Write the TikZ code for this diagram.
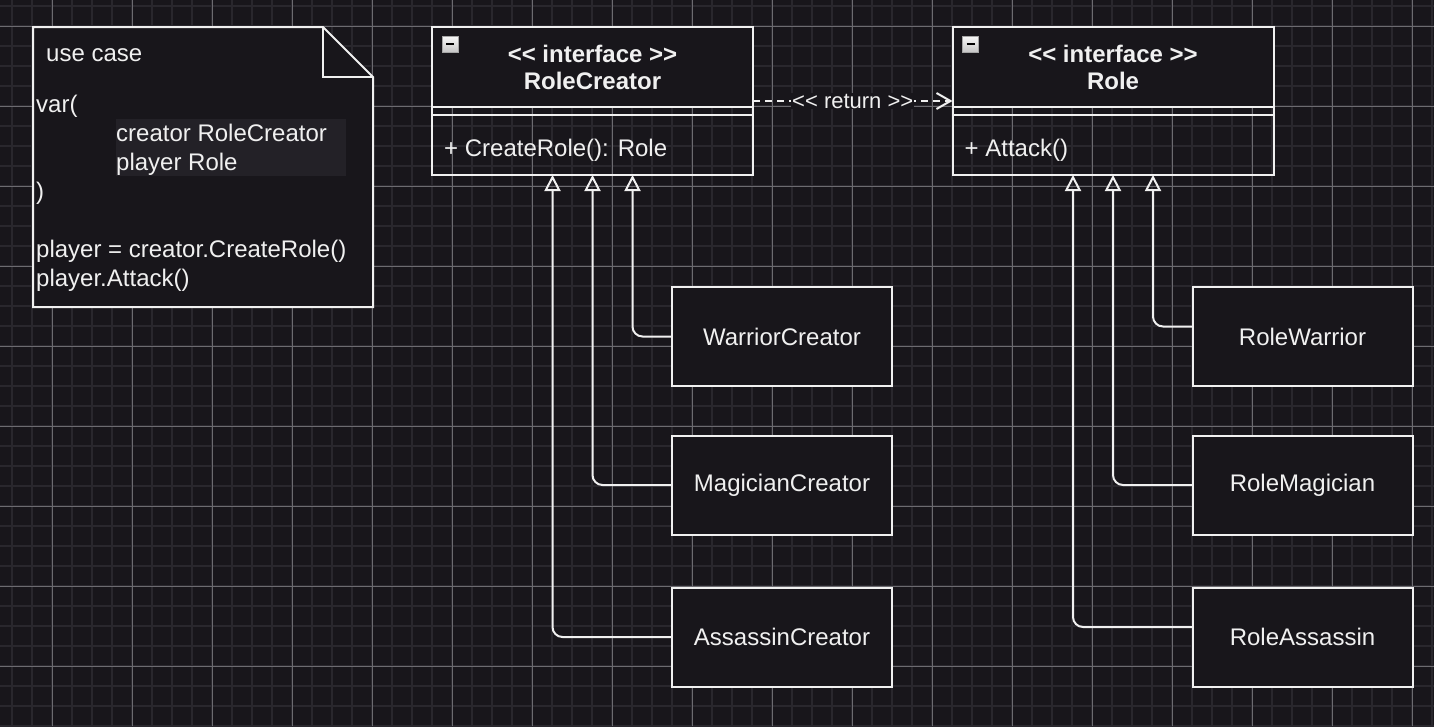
\documentclass[tikz,border=0pt]{standalone}
\usepackage{fontspec}
\newfontfamily\diagramfont{Liberation Sans}
\usepackage{tikz}
\usetikzlibrary{arrows.meta,positioning}
\definecolor{canvas}{HTML}{18161B}
\definecolor{minorline}{HTML}{29272D}
\definecolor{majorline}{HTML}{6C6B70}
\definecolor{ink}{HTML}{F0F0F0}
\definecolor{fieldshade}{HTML}{232127}

\begin{document}
\begin{tikzpicture}[x=1pt,y=-1pt,
    boxline/.style={draw=ink, line width=2pt},
    plaintext/.style={text=ink, inner sep=0pt, font=\diagramfont\fontsize{24}{29}\selectfont},
    notetext/.style={plaintext, anchor=base west},
    ifacehead/.style={boxline, fill=canvas, outer sep=0pt, minimum width=321pt, minimum height=80pt,
        text=ink, align=center, font=\diagramfont\bfseries\fontsize{24}{27}\selectfont},
    ifacebody/.style={boxline, outer sep=0pt, minimum width=321pt, minimum height=60pt},
    classbox/.style={boxline, fill=canvas, outer sep=0pt, minimum width=220pt, minimum height=99pt,
        text=ink, font=\diagramfont\fontsize{24}{29}\selectfont},
    inherits/.style={draw=ink, line width=2pt, rounded corners=10pt,
        -{Triangle[open, length=16pt, width=16pt]}},
    returnline/.style={draw=ink, line width=2pt, dash pattern=on 7pt off 5pt,
        -{Straight Barb[length=14pt, width=16pt]}},
    returntag/.style={fill=canvas, text=ink, inner sep=1pt, font=\diagramfont\fontsize{22}{26}\selectfont},
    collapser/.style={draw=gray!70, line width=1pt, top color=gray!5, bottom color=gray!45}
]
    %--- Arguments ----
    \def \gap {40} % spacing of the inheritance lines
    \def \lift {10} % raise of the upper and lower role links
    %--- Canvas and grid ---
    \path [use as bounding box, fill=canvas] (0,0) rectangle (1434,726);
    \foreach \x in {12,32,...,1432} \draw [minorline, line width=2pt] (\x,0) -- (\x,726);
    \foreach \y in {6,26,...,726} \draw [minorline, line width=2pt] (0,\y) -- (1434,\y);
    \foreach \x in {52,132,...,1412} \draw [majorline, line width=1pt] (\x,0) -- (\x,726);
    \foreach \y in {26,106,...,666} \draw [majorline, line width=1pt] (0,\y) -- (1434,\y);
    %--- Use case note ---
    \draw [boxline, fill=canvas] (33,27) -- (323,27) -- (373,77) -- (373,307) -- (33,307) -- cycle;
    \draw [boxline] (323,27) -- (323,77) -- (373,77);
    \node [fill=fieldshade, inner sep=0pt, minimum width=230pt, minimum height=57pt, anchor=north west] (fieldshade) at (116,119) {};
    \node [notetext] (usecase) at (46,61) {use case};
    \node [notetext] (varopen) at (36,112) {var(};
    \node [notetext] (creatorfield) at (116,141) {creator RoleCreator};
    \node [notetext] (playerfield) at (116,170) {player Role};
    \node [notetext] (varclose) at (36,199) {)};
    \node [notetext] (createcall) at (36,257) {player = creator.CreateRole()};
    \node [notetext] (attackcall) at (36,286) {player.Attack()};
    %--- Interfaces ---
    % RoleCreator
    \node [ifacehead] (creatorhead) at (592.5,67) {<< interface >>\\RoleCreator};
    \node [ifacebody, below=8pt of creatorhead] (creatorbody) {};
    \draw [boxline] (creatorhead.south west) rectangle (creatorbody.north east);
    \node [plaintext, anchor=west] (createrole) at ([shift={(12,5)}]creatorbody.west) {+ CreateRole(): Role};
    \draw [collapser] ([shift={(10,9)}]creatorhead.north west) rectangle ++(16,16);
    \draw [black, line width=2.5pt] ([shift={(14,17)}]creatorhead.north west) -- ++(8,0);
    % Role
    \node [ifacehead] (rolehead) at (1113,67) {<< interface >>\\Role};
    \node [ifacebody, below=8pt of rolehead] (rolebody) {};
    \draw [boxline] (rolehead.south west) rectangle (rolebody.north east);
    \node [plaintext, anchor=west] (attack) at ([shift={(12,5)}]rolebody.west) {+ Attack()};
    \draw [collapser] ([shift={(10,9)}]rolehead.north west) rectangle ++(16,16);
    \draw [black, line width=2.5pt] ([shift={(14,17)}]rolehead.north west) -- ++(8,0);
    %--- Return link ---
    \draw [returnline] ([shift={(0,34)}]creatorhead.east) -- node [returntag] (returnlabel) {<< return >>} ([shift={(0,34)}]rolehead.west);
    %--- Concrete classes ---
    \node [classbox] (warriorcreator) at (782,336.5) {WarriorCreator};
    \node [classbox] (magiciancreator) at (782,485) {MagicianCreator};
    \node [classbox] (assassincreator) at (782,637) {AssassinCreator};
    \node [classbox] (rolewarrior) at (1302.5,336.5) {RoleWarrior};
    \node [classbox] (rolemagician) at (1302.5,485) {RoleMagician};
    \node [classbox] (roleassassin) at (1302.5,637) {RoleAssassin};
    %--- Inheritance lines ---
    \draw [inherits] (warriorcreator.west) -| ([shift={(\gap,0)}]creatorbody.south);
    \draw [inherits] (magiciancreator.west) -| (creatorbody.south);
    \draw [inherits] (assassincreator.west) -| ([shift={(-\gap,0)}]creatorbody.south);
    \draw [inherits] ([shift={(0,-\lift)}]rolewarrior.west) -| ([shift={(\gap,0)}]rolebody.south);
    \draw [inherits] (rolemagician.west) -| (rolebody.south);
    \draw [inherits] ([shift={(0,-\lift)}]roleassassin.west) -| ([shift={(-\gap,0)}]rolebody.south);
\end{tikzpicture}
\end{document}
